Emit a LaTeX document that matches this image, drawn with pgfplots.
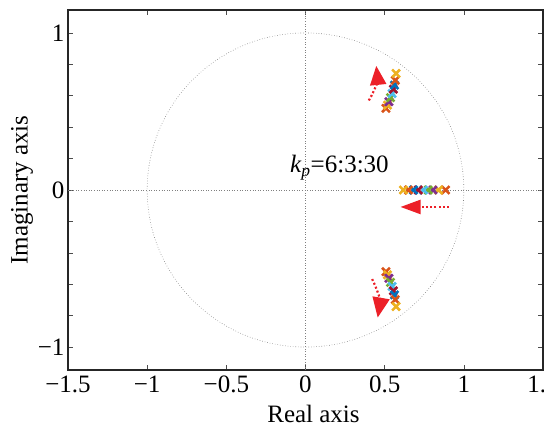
\documentclass[border=0pt]{standalone}
\usepackage{fontspec}
\setmainfont{Liberation Serif}
\usepackage{pgfplots}
\pgfplotsset{compat=1.18}
\usetikzlibrary{arrows.meta}
\definecolor{mBlue}{HTML}{0072BD}
\definecolor{mOrange}{HTML}{D95319}
\definecolor{mYellow}{HTML}{EDB120}
\definecolor{mPurple}{HTML}{7E2F8E}
\definecolor{mGreen}{HTML}{77AC30}
\definecolor{mCyan}{HTML}{4DBEEE}
\definecolor{mRed}{HTML}{A2142F}
\definecolor{arrowRed}{RGB}{236,32,40}
\newcommand{\bigfont}{\fontsize{25}{29}\selectfont}
\tikzset{
  pole/.style={only marks,mark=x,mark size=5.5pt,line width=2.6pt},
  move/.style={arrowRed,line width=2.2pt,dash pattern=on 2pt off 2.2pt},
}
\begin{document}
\begin{tikzpicture}
\begin{axis}[
  scale only axis, width=475pt, height=360pt,
  xmin=-1.5, xmax=1.5, ymin=-1.146, ymax=1.146,
  axis line style={line width=2.4pt,black!85},
  tick style={black!70,line width=0.6pt},
  major tick length=5pt, tick align=inside,
  xtick={-1.5,-1,...,1.5},
  xticklabels={−1.5,−1,−0.5,0,0.5,1,1.5},
  ytick={-1,-0.8,-0.6,-0.4,-0.2,0,0.2,0.4,0.6,0.8,1},
  yticklabels={−1,,,,,0,,,,,1},
  tick label style={font=\bigfont},
  xticklabel style={yshift=-2pt},
  label style={font=\bigfont},
  xlabel={Real axis}, ylabel={Imaginary axis},
  xlabel style={yshift=-6pt,xshift=8pt},
  ylabel style={yshift=-2pt},
  clip=false,
]
\coordinate (sw) at (rel axis cs:0,0);
\coordinate (ne) at (rel axis cs:1,1);
\addplot[black!50,dotted,line width=0.6pt] coordinates {(-1.5,0) (1.5,0)};
\addplot[black!50,dotted,line width=0.6pt] coordinates {(0,-1.146) (0,1.146)};
\draw[black!50,dotted,line width=0.6pt] (axis cs:0,0) ellipse [x radius=1, y radius=1];
% poles for kp = 6:3:30
\addplot[pole,mOrange] coordinates {(0.885,0) (0.508,0.520) (0.508,-0.520)};
\addplot[pole,mYellow] coordinates {(0.840,0) (0.518,0.540) (0.518,-0.540)};
\addplot[pole,mPurple] coordinates {(0.805,0) (0.527,0.562) (0.527,-0.562)};
\addplot[pole,mGreen]  coordinates {(0.775,0) (0.537,0.588) (0.537,-0.588)};
\addplot[pole,mCyan]   coordinates {(0.745,0) (0.547,0.614) (0.547,-0.614)};
\addplot[pole,mRed]    coordinates {(0.712,0) (0.555,0.642) (0.555,-0.642)};
\addplot[pole,mBlue]   coordinates {(0.682,0) (0.562,0.668) (0.562,-0.668)};
\addplot[pole,mOrange] coordinates {(0.650,0) (0.567,0.698) (0.567,-0.698)};
\addplot[pole,mYellow] coordinates {(0.618,0) (0.572,0.742) (0.572,-0.742)};
% direction arrows
\draw[move,-{Triangle[length=19pt,width=16pt]}] (axis cs:0.400,0.570) to[bend right=18] (axis cs:0.447,0.790);
\draw[move,-{Triangle[length=20pt,width=17pt]}] (axis cs:0.421,-0.567) to[bend left=18] (axis cs:0.456,-0.812);
\draw[move,-{Triangle[length=20pt,width=14pt]}] (axis cs:0.906,-0.108) -- (axis cs:0.600,-0.108);
\node[font=\bigfont,anchor=base west] at (axis cs:-0.12,0.11) {\textit{k}\textsubscript{\textit{p}}=6:3:30};
\end{axis}
\pgfresetboundingbox
\path ([shift={(-68pt,-63pt)}]sw) rectangle ([shift={(1pt,10pt)}]ne);
\end{tikzpicture}
\end{document}
